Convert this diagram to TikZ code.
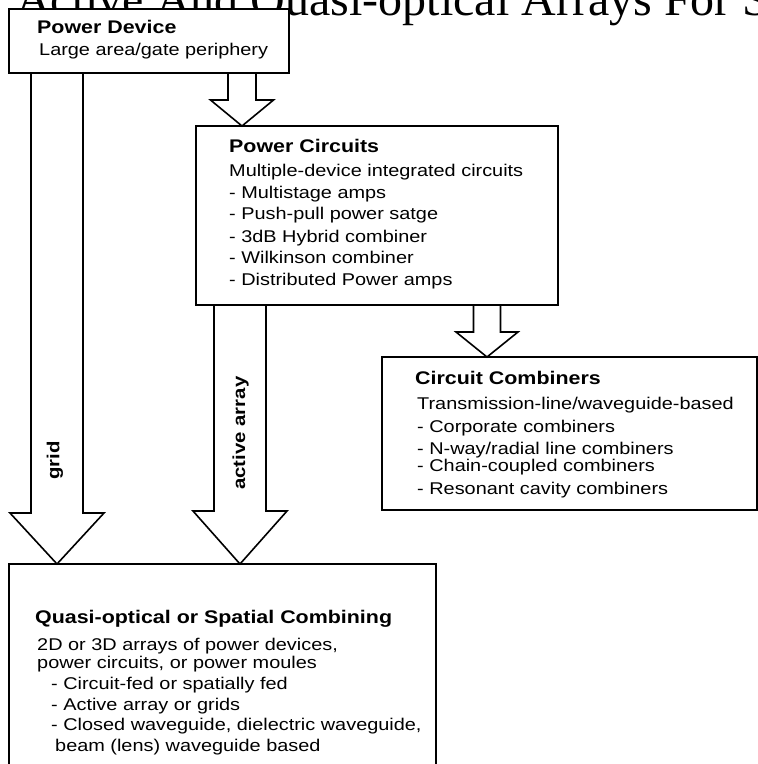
\documentclass[tikz,border=0pt]{standalone}
\usepackage{fontspec}
\setmainfont{Liberation Sans}[FakeStretch=1.17]
\newfontfamily\titlefont{Liberation Serif}
\usetikzlibrary{calc}
% hollow block arrow: [style](from)(to)(x centre:shaft half:head half:head length)
\def\blockarrow[#1](#2)(#3)(#4:#5:#6:#7){\draw[#1] (#4-#5,0 |- #2.south) -- ($(#4-#5,0 |- #3.north)+(0,-#7)$) -- ($(#4-#6,0 |- #3.north)+(0,-#7)$) -- (#4,0 |- #3.north) -- ($(#4+#6,0 |- #3.north)+(0,-#7)$) -- ($(#4+#5,0 |- #3.north)+(0,-#7)$) -- (#4+#5,0 |- #2.south);}

\tikzset{
  box/.style={draw, line width=1.6pt, fill=white, outer sep=0pt, inner sep=0pt, anchor=north west},
  arrowline/.style={line width=1.6pt, line join=miter},
  head/.style={font=\bfseries\fontsize{18.3}{20}\selectfont, inner sep=0pt, anchor=base west},
  body/.style={font=\fontsize{17}{20}\selectfont, inner sep=0pt, anchor=base west},
  arrowlabel/.style={font=\bfseries\fontsize{17.4}{20}\selectfont, inner sep=0pt, rotate=90, anchor=base west}
}

\begin{document}
\begin{tikzpicture}[x=1pt, y=-1pt]
			%%%%% START %%%%%
			\useasboundingbox (0,0) rectangle (758,764);
			\clip (0,0) rectangle (758,764);
			
			\node[inner sep=0pt, anchor=base west, font=\titlefont\fontsize{48}{50}\selectfont] (title) at (16,15) {Active And Quasi-optical Arrays For S};
			
			\node[box, minimum width=280pt, minimum height=64pt] (dev) at (9,9) {};
			\node[box, minimum width=362pt, minimum height=179pt] (pc) at (196,126) {};
			\node[box, minimum width=375pt, minimum height=153pt] (cc) at (382,357) {};
			\node[box, minimum width=427pt, minimum height=240pt] (qo) at (9,564) {};
			
			\blockarrow[arrowline](dev)(pc)(242:14:31.5:26)
			\blockarrow[arrowline](pc)(cc)(487:13.5:31:25)
			\blockarrow[arrowline](dev)(qo)(57:26:47:51)
			\blockarrow[arrowline](pc)(qo)(240:26:47:53)
			
			\node[arrowlabel] (gridlbl) at (59.5,480) {grid};
			\node[arrowlabel] (activelbl) at (245,490) {active array};
			
			\node[head] (devhead) at (37,33) {Power Device};
			\node[body] (devline) at (39,55) {Large area/gate periphery};
			
			\node[head] (pchead) at (229,152) {Power Circuits};
			\foreach \y/\t [count=\i] in {176/{Multiple-device integrated circuits}, 198/{- Multistage amps}, 219/{- Push-pull power satge}, 242/{- 3dB Hybrid combiner}, 263/{- Wilkinson combiner}, 285/{- Distributed Power amps}}
				\node[body] (pc\i) at (229,\y) {\t};
			
			\node[head] (cchead) at (415,384) {Circuit Combiners};
			\foreach \y/\t [count=\i] in {409/{Transmission-line/waveguide-based}, 432/{- Corporate combiners}, 454/{- N-way/radial line combiners}, 471/{- Chain-coupled combiners}, 494/{- Resonant cavity combiners}}
				\node[body] (cc\i) at (417,\y) {\t};
			
			\node[head] (qohead) at (35,623) {Quasi-optical or Spatial Combining};
			\node[body] (qo1) at (37,650) {2D or 3D arrays of power devices,};
			\node[body] (qo2) at (37,668) {power circuits, or power moules};
			\foreach \y/\t [count=\i from 3] in {689/{- Circuit-fed or spatially fed}, 710/{- Active array or grids}, 730/{- Closed waveguide, dielectric waveguide,}}
				\node[body] (qo\i) at (51,\y) {\t};
			\node[body] (qo6) at (55,751) {beam (lens) waveguide based};
			
			%%%%% END %%%%%
\end{tikzpicture}
\end{document}
